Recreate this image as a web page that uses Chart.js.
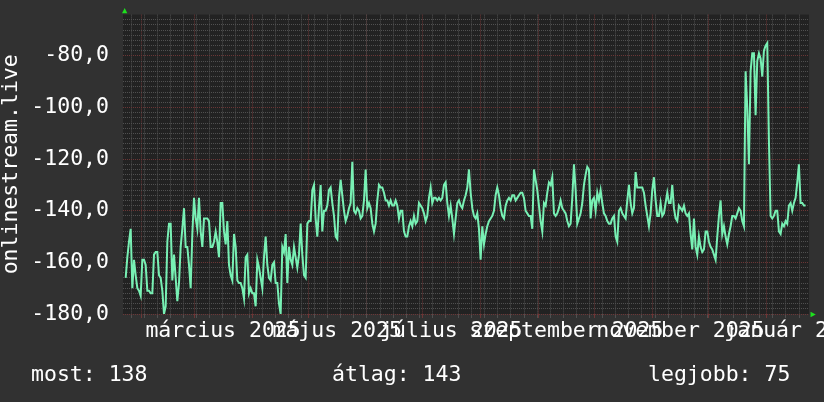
<!DOCTYPE html>
<html>
<head>
<meta charset="utf-8">
<script src="https://cdn.jsdelivr.net/npm/chart.js@4.4.1/dist/chart.umd.min.js"></script>
<style>
  html, body { margin: 0; padding: 0; background: #313131; }
  #wrap { width: 824px; height: 402px; }
</style>
</head>
<body>
<div id="wrap"><canvas id="chart" width="824" height="402"></canvas></div>
<script>
/* ---------------------------------------------------------
   DATA  (x = day number, 0 = 1 Jan 2025)
   --------------------------------------------------------- */
const FIRST_DAY = 22.43;
const DAY_STEP = 0.8908;
const X_MIN = 21.0;
const X_MAX = 387.7;
const Y_MIN = -180;
const Y_MAX = -64;

const monthStarts = [31, 59, 90, 120, 151, 181, 212, 243, 273, 304, 334, 365];
const monthLabels = ["március 2025", "május 2025", "július 2025", "szeptember 2025", "november 2025", "január 2026"];
const monthLabelDays = [74.5, 135.5, 196.5, 258, 319, 380.5];
const firstWeek = 25.4;
const yMajorStep = 20;
const yMinorStep = 2;
const yAxisTitle = "onlinestream.live";
const summaryTexts = ["most: 138", "átlag: 143", "legjobb: 75"];

const rankSeries = [
  -166,-158,-152,-147,-170,-159,-165,-170,-171,-173,
  -159,-159,-161,-171,-171,-172,-172,-157,-156,-156,
  -165,-166,-171,-180,-177,-152,-145,-145,-167,-157,
  -166,-175,-168,-154,-147,-139,-154,-154,-161,-170,
  -149,-135,-143,-147,-135,-148,-154,-143,-143,-143,
  -144,-154,-154,-152,-148,-152,-158,-137,-137,-148,
  -153,-144,-161,-165,-167,-149,-154,-167,-168,-168,
  -170,-174,-158,-157,-172,-170,-172,-172,-177,-159,
  -162,-166,-170,-158,-150,-161,-166,-167,-161,-160,
  -168,-168,-176,-180,-154,-156,-149,-168,-154,-159,
  -161,-154,-158,-162,-157,-145,-157,-165,-166,-145,
  -144,-144,-132,-130,-143,-150,-139,-130,-148,-140,
  -140,-138,-132,
  -131,-137,-142,-150,-151,-135,-128,-134,-140,-144,
  -142,-139,-137,-121,-140,-141,-139,-140,-143,-142,
  -136,-124,-139,-137,-139,-145,-148,-145,-136,-130,
  -131,-131,-133,-136,-136,-138,-136,-138,-138,-136,
  -138,-143,-140,-140,-148,-150,-150,-146,-144,-146,
  -142,-145,-144,-137,-138,-139,-141,-144,-142,-135,
  -131,-137,-135,-135,-136,-135,-136,-135,-130,-129,
  -137,-142,-138,-143,-149,-143,-137,-136,-138,-139,
  -136,-134,-131,-124,-133,-139,-142,-143,-141,-147,
  -159,-146,-153,-149,-146,-144,-143,-142,-140,-134,
  -131,-134,-139,-142,-143,-138,-136,-135,-136,-134,
  -134,-136,-135,-134,-133,-133,-135,-140,-141,-142,
  -142,-147,-124,-128,-132,-138,-144,-148,-137,-138,
  -133,-129,-130,-127,-141,-142,-141,-139,-136,-139,
  -140,-141,-144,-146,-145,-135,-122,-132,-145,-143,
  -141,-137,-130,-126,-123,-124,-143,-136,-135,-140,
  -133,-136,-132,-137,-141,-142,-144,-145,-145,-143,
  -142,-150,-152,-140,-139,-141,-142,-143,-136,-130,
  -137,-141,-139,-125,-131,-131,-131,-131,-133,-138,
  -142,-146,-141,-132,-127,-136,-142,-142,-137,-142,
  -141,-137,-133,-137,-137,-130,-139,-143,-144,-138,
  -139,-140,-138,-141,-142,-141,-149,-155,-143,-154,
  -157,-150,
  -154,-156,-155,-148,-148,-152,-154,-155,-157,-159,
  -150,-142,-136,-149,-146,-150,-153,-149,-146,-142,
  -142,-143,-141,-139,-140,-144,-146,-86,-100,-122,
  -86,-79,-79,-103,-82,-79,-81,-88,-78,-76,
  -75,-113,-142,-143,-142,-140,-140,-148,-149,-145,
  -146,-144,-145,-138,-137,-140,-137,-135,-129,-122,
  -137,-137,-138,-138
];

/* ---------------------------------------------------------
   STYLE
   --------------------------------------------------------- */
const FONT = '"DejaVu Sans Mono", monospace';
const FONT_SIZE = 21.5;
const TEXT_COLOR = "#ffffff";
const PLOT_BG = "#222222";
const GRID_MINOR = "#505050";
const GRID_MAJOR = "#6c3636";
const LINE_COLOR = "#78f0b4";
const ARROW_COLOR = "#1ee01e";

function buildXTicks() {
    const ticks = [];
    for (let d = firstWeek; d <= X_MAX; d += 7) ticks.push({ value: d, kind: "minor" });
    monthStarts.forEach(d => ticks.push({ value: d, kind: "major" }));
    monthLabelDays.forEach((d, i) => ticks.push({ value: d, kind: "label", text: monthLabels[i] }));
    return ticks
        .filter(t => t.value >= X_MIN && t.value <= X_MAX)
        .sort((a, b) => a.value - b.value);
}

function buildYTicks() {
    const ticks = [];
    for (let v = Y_MIN; v < Y_MAX - 1; v += yMinorStep) ticks.push({ value: v });
    return ticks;
}

const isMajorY = v => Math.abs(v % yMajorStep) < 1e-6;
const xKindColor = t => !t ? GRID_MINOR
    : t.kind === "major" ? GRID_MAJOR
    : t.kind === "label" ? "rgba(0,0,0,0)" : GRID_MINOR;

/* ---------------------------------------------------------
   PLUGINS
   --------------------------------------------------------- */
const plotBackground = {
    id: "plotBackground",
    beforeDraw(chart) {
        const { ctx, chartArea: a } = chart;
        ctx.save();
        ctx.fillStyle = PLOT_BG;
        ctx.fillRect(a.left, a.top, a.right - a.left, a.bottom - a.top);
        ctx.restore();
    }
};

const rrdDecor = {
    id: "rrdDecor",
    afterDraw(chart) {
        const { ctx, chartArea: a } = chart;
        ctx.save();
        // axis arrows
        ctx.fillStyle = ARROW_COLOR;
        ctx.beginPath();
        ctx.moveTo(a.left - 1, a.top - 1.3);
        ctx.lineTo(a.left + 4.3, a.top - 1.3);
        ctx.lineTo(a.left + 1.7, a.top - 6.5);
        ctx.closePath();
        ctx.fill();
        ctx.beginPath();
        ctx.moveTo(a.right + 1.5, a.bottom - 2.2);
        ctx.lineTo(a.right + 1.5, a.bottom + 3.3);
        ctx.lineTo(a.right + 6.8, a.bottom + 0.5);
        ctx.closePath();
        ctx.fill();

        // summary line under the graph
        ctx.fillStyle = TEXT_COLOR;
        ctx.font = `${FONT_SIZE}px ${FONT}`;
        ctx.textBaseline = "alphabetic";
        ctx.textAlign = "left";
        const xs = [31, 332, 648];
        summaryTexts.forEach((t, i) => ctx.fillText(t, xs[i], 381));
        ctx.restore();
    }
};

/* ---------------------------------------------------------
   CHART
   --------------------------------------------------------- */
const points = rankSeries.map((v, i) => ({ x: FIRST_DAY + i * DAY_STEP, y: v }));

new Chart(document.getElementById("chart"), {
    type: "line",
    data: {
        datasets: [{
            data: points,
            borderColor: LINE_COLOR,
            borderWidth: 2,
            pointRadius: 0,
            tension: 0,
            fill: false
        }]
    },
    options: {
        responsive: false,
        animation: false,
        events: [],
        layout: { autoPadding: false, padding: { left: 0, top: 14, right: 15, bottom: 0 } },
        plugins: { legend: { display: false }, tooltip: { enabled: false } },
        scales: {
            x: {
                type: "linear",
                min: X_MIN,
                max: X_MAX,
                afterBuildTicks: s => { s.ticks = buildXTicks(); },
                afterFit: s => { s.height = 88; },
                border: { display: false, dash: [1, 1] },
                grid: {
                    lineWidth: 1,
                    tickLength: 4,
                    color: c => xKindColor(c.tick),
                    tickColor: c => xKindColor(c.tick)
                },
                ticks: {
                    autoSkip: false,
                    maxRotation: 0,
                    minRotation: 0,
                    padding: 1,
                    color: TEXT_COLOR,
                    font: { family: FONT, size: FONT_SIZE },
                    callback: (v, i, ticks) => ticks[i].text || ""
                }
            },
            y: {
                min: Y_MIN,
                max: Y_MAX,
                afterBuildTicks: s => { s.ticks = buildYTicks(); },
                afterFit: s => { s.width = 123; },
                border: { display: false, dash: [1, 1] },
                grid: {
                    drawTicks: false,
                    lineWidth: 1,
                    color: c => c.tick && isMajorY(c.tick.value) ? GRID_MAJOR : GRID_MINOR
                },
                ticks: {
                    autoSkip: false,
                    padding: 14,
                    color: TEXT_COLOR,
                    font: c => ({ family: FONT, size: c.tick && isMajorY(c.tick.value) ? FONT_SIZE : 1 }),
                    callback: v => isMajorY(v) ? v.toFixed(1).replace(".", ",") : ""
                },
                title: {
                    display: true,
                    text: yAxisTitle,
                    color: TEXT_COLOR,
                    padding: 0,
                    font: { family: FONT, size: FONT_SIZE, lineHeight: 1.1 }
                }
            }
        }
    },
    plugins: [plotBackground, rrdDecor]
});
</script>
</body>
</html>
